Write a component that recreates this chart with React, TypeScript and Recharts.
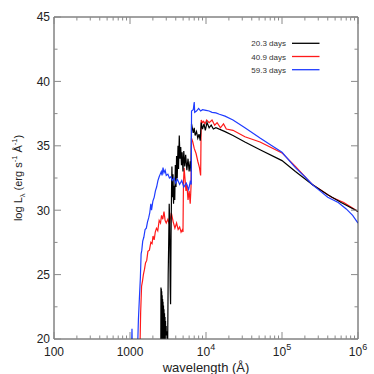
import { LineChart, Line, XAxis, YAxis, Legend } from "recharts";

// wavelength (Å), log L_lambda
const spec20 = [
  [2540, 18], [2555, 24.0], [2570, 19.5], [2585, 23.9], [2600, 19.5], [2615, 23.7],
  [2630, 19.5], [2650, 23.4], [2665, 19.5], [2685, 23.1], [2700, 19.5], [2720, 22.9],
  [2740, 19.5], [2760, 22.6], [2780, 19.5], [2800, 22.3], [2820, 19.5], [2845, 22.0],
  [2865, 19.5], [2890, 21.7], [2910, 19.5], [2935, 21.4], [2960, 19.5], [2990, 21.0],
  [3020, 19.0], [3060, 20.6], [3120, 18.5], [3180, 25.0], [3230, 27.5], [3280, 30.5],
  [3330, 29.0], [3380, 24.0], [3420, 22.7], [3470, 28.0], [3520, 31.5], [3560, 33.4],
  [3620, 31.0], [3680, 32.8], [3740, 30.5], [3800, 31.9], [3880, 30.8], [3950, 33.5],
  [4030, 31.8], [4100, 34.2], [4180, 32.5], [4282, 35.0], [4350, 33.2], [4450, 35.8],
  [4550, 34.0], [4650, 34.9], [4750, 33.5], [4850, 34.5], [4980, 33.0], [5100, 34.6],
  [5250, 33.4], [5400, 34.3], [5600, 33.1], [5800, 34.0], [6000, 33.0], [6200, 33.8],
  [6350, 33.0], [6450, 36.7], [6600, 36.4], [6800, 36.0], [7000, 36.4], [7200, 35.8],
  [7500, 36.1], [7800, 35.6], [8100, 35.9], [8400, 35.4], [8650, 36.8], [9000, 36.3],
  [9400, 36.7], [9800, 36.2], [10300, 36.8], [11000, 36.4], [11700, 36.6], [12500, 36.3],
  [13500, 36.4], [17800, 36.1], [22650, 35.8], [32500, 35.3], [51400, 34.7],
  [100000, 33.85], [150000, 33.0], [250000, 32.0], [400000, 31.2], [600000, 30.6],
  [1000000, 29.9],
];

const spec41 = [
  [1340, 18], [1380, 22], [1420, 24.1], [1460, 24.5], [1500, 25.0], [1550, 25.4],
  [1600, 25.9], [1660, 26.1], [1720, 26.8], [1800, 26.9], [1880, 27.5], [1950, 27.4],
  [2010, 28.0], [2080, 27.7], [2150, 28.3], [2230, 28.6], [2320, 28.4], [2420, 29.2],
  [2520, 29.0], [2600, 29.6], [2700, 29.3], [2800, 29.9], [2900, 29.2], [3000, 29.0],
  [3150, 29.3], [3300, 28.9], [3500, 29.8], [3700, 29.1], [3900, 28.6], [4100, 29.0],
  [4300, 28.5], [4500, 28.7], [4700, 28.3], [4900, 28.5], [4980, 28.3], [5050, 32.0],
  [5150, 33.3], [5300, 32.4], [5450, 31.5], [5600, 32.0], [5800, 30.8], [6000, 31.5],
  [6200, 30.5], [6350, 31.8], [6450, 35.6], [6700, 35.3], [7000, 34.8], [7400, 34.4],
  [7800, 33.8], [8200, 33.3], [8500, 32.7], [8650, 37.0], [9000, 36.8], [9300, 36.9],
  [9700, 36.7], [10200, 37.0], [11000, 36.8], [12000, 37.0], [13000, 36.6], [14000, 36.8],
  [15500, 36.4], [17000, 36.7], [18500, 36.3], [22650, 36.2], [32500, 35.7], [51400, 35.3],
  [100000, 34.45], [150000, 33.4], [200000, 32.6], [250000, 32.0], [316000, 31.6],
  [450000, 31.0], [650000, 30.6], [1000000, 29.9],
];

const spec59 = [
  [1040, 18], [1062, 20.8], [1080, 18], [1240, 18], [1290, 21.5], [1330, 23.2],
  [1370, 24.8], [1400, 26.6], [1430, 26.9], [1470, 27.6], [1520, 27.9], [1580, 28.5],
  [1640, 28.6], [1700, 29.1], [1760, 29.4], [1820, 29.8], [1880, 30.5], [1920, 30.0],
  [2000, 30.7], [2080, 31.0], [2160, 31.5], [2240, 31.8], [2330, 32.3], [2420, 32.6],
  [2500, 32.8], [2580, 33.0], [2640, 32.7], [2720, 33.3], [2800, 32.9], [2900, 33.1],
  [3000, 32.7], [3150, 32.8], [3300, 32.5], [3450, 32.6], [3600, 32.3], [3800, 32.5],
  [4000, 32.1], [4200, 32.4], [4500, 32.0], [4800, 32.3], [5100, 31.8], [5500, 32.1],
  [5900, 31.6], [6200, 32.2], [6400, 32.0], [6450, 37.7], [6800, 37.8], [7000, 38.4],
  [7100, 37.6], [7500, 37.7], [8000, 37.9], [8500, 37.7], [9000, 37.8], [10000, 37.75],
  [11000, 37.7], [12000, 37.6], [13500, 37.55], [15000, 37.45], [17800, 37.3],
  [22650, 37.0], [32500, 36.4], [51400, 35.6], [69500, 35.1], [100000, 34.5],
  [150000, 33.3], [200000, 32.6], [250000, 32.0], [316000, 31.5], [400000, 31.0],
  [550000, 30.6], [700000, 30.1], [850000, 29.6], [1000000, 29.0],
];

const seriesNames = ["20.3 days", "40.9 days", "59.3 days"];
const seriesColors = ["#000000", "#ff1a1a", "#1f3cff"];

const xMajor = [100, 1000, 10000, 100000, 1000000];
const xMajorLabels = [["100", ""], ["1000", ""], ["10", "4"], ["10", "5"], ["10", "6"]];
const xMinor = [100, 1000, 10000, 100000].flatMap((d) => [2, 3, 4, 5, 6, 7, 8, 9].map((m) => d * m));
const xTicks = [...xMajor, ...xMinor].sort((a, b) => a - b);
const yTicks = [20, 22.5, 25, 27.5, 30, 32.5, 35, 37.5, 40, 42.5, 45];
const yMajor = [20, 25, 30, 35, 40, 45];

const toRows = (arr: number[][]) => arr.map(([w, v]) => ({ w, v }));

const FONT = "'Liberation Sans', Arial, sans-serif";
const TICK = "#8a8a8a";
const FRAME = "#444";

const BottomTick = (props: any) => {
  const { x, y, payload } = props;
  const i = xMajor.indexOf(payload.value);
  const major = i >= 0;
  return (
    <g>
      <line x1={x} x2={x} y1={y} y2={y - (major ? 7 : 3.5)} stroke={TICK} />
      {major && (
        <text x={x} y={y + 17} textAnchor="middle" fontSize={12} fontFamily={FONT} fill="#222">
          <tspan>{xMajorLabels[i][0]}</tspan>
          {xMajorLabels[i][1] && (
            <tspan dy={-6} fontSize={9}>{xMajorLabels[i][1]}</tspan>
          )}
        </text>
      )}
    </g>
  );
};

const TopTick = (props: any) => {
  const { x, y, payload } = props;
  const major = xMajor.includes(payload.value);
  return <line x1={x} x2={x} y1={y} y2={y + (major ? 7 : 3.5)} stroke={TICK} />;
};

const LeftTick = (props: any) => {
  const { x, y, payload } = props;
  const major = yMajor.includes(payload.value);
  return (
    <g>
      <line x1={x} x2={x + (major ? 7 : 3.5)} y1={y} y2={y} stroke={TICK} />
      {major && (
        <text x={x - 4} y={y + 4.3} textAnchor="end" fontSize={12} fontFamily={FONT} fill="#222">
          {payload.value}
        </text>
      )}
    </g>
  );
};

const RightTick = (props: any) => {
  const { x, y, payload } = props;
  const major = yMajor.includes(payload.value);
  return <line x1={x} x2={x - (major ? 7 : 3.5)} y1={y} y2={y} stroke={TICK} />;
};

const renderLegend = () => (
  <svg width={374} height={80} style={{ position: "absolute", left: 0, top: 0 }}>
    {seriesNames.map((n, i) => (
      <g key={n}>
        <text x={286} y={43.3 + i * 13.2 + 3} textAnchor="end" fontSize={8} fontFamily={FONT} fill="#333">
          {n}
        </text>
        <line x1={292} x2={319.5} y1={43.3 + i * 13.2} y2={43.3 + i * 13.2} stroke={seriesColors[i]} strokeWidth={1.3} />
      </g>
    ))}
  </svg>
);

const renderXLabel = () => (
  <text x={206} y={372} textAnchor="middle" fontSize={13} fontFamily={FONT} fill="#222">
    wavelength (Å)
  </text>
);

const renderYLabel = () => (
  <text x={22} y={178} transform="rotate(-90 22 178)" textAnchor="middle" fontSize={11} fontFamily={FONT} fill="#222">
    <tspan>log L</tspan>
    <tspan dy={3} fontSize={7.5}>λ</tspan>
    <tspan dy={-3}> (erg s</tspan>
    <tspan dy={-5} fontSize={7.5}>-1</tspan>
    <tspan dy={5}> Å</tspan>
    <tspan dy={-5} fontSize={7.5}>-1</tspan>
    <tspan dy={5}>)</tspan>
  </text>
);

const App = () => {
  return (
    <div style={{ position: "absolute", left: 0, top: 0, background: "#fff" }}>
      <LineChart width={374} height={374} margin={{ top: 0, right: 0, bottom: 0, left: 0 }}>
        <XAxis
          dataKey="w"
          type="number"
          scale="log"
          domain={[100, 1000000]}
          allowDataOverflow
          ticks={xTicks}
          interval={0}
          tickSize={0}
          tickMargin={0}
          tickLine={false}
          height={35}
          axisLine={{ stroke: FRAME }}
          tick={<BottomTick />}
          label={{ content: renderXLabel }}
        />
        <XAxis
          xAxisId="top"
          orientation="top"
          dataKey="w"
          type="number"
          scale="log"
          domain={[100, 1000000]}
          allowDataOverflow
          ticks={xTicks}
          interval={0}
          tickSize={0}
          tickMargin={0}
          tickLine={false}
          height={17}
          axisLine={{ stroke: FRAME }}
          tick={<TopTick />}
        />
        <YAxis
          type="number"
          domain={[20, 45]}
          allowDataOverflow
          ticks={yTicks}
          interval={0}
          tickSize={0}
          tickMargin={0}
          tickLine={false}
          width={54}
          axisLine={{ stroke: FRAME }}
          tick={<LeftTick />}
          label={{ content: renderYLabel }}
        />
        <YAxis
          yAxisId="right"
          orientation="right"
          type="number"
          domain={[20, 45]}
          allowDataOverflow
          ticks={yTicks}
          interval={0}
          tickSize={0}
          tickMargin={0}
          tickLine={false}
          width={16}
          axisLine={{ stroke: FRAME }}
          tick={<RightTick />}
        />
        <Legend
          layout="horizontal"
          verticalAlign="middle"
          align="center"
          wrapperStyle={{ position: "absolute", left: 0, top: 0, width: 374, height: 80 }}
          content={renderLegend}
        />
        <Line data={toRows(spec41)} dataKey="v" name={seriesNames[1]} stroke={seriesColors[1]} strokeWidth={1.2} dot={false} isAnimationActive={false} />
        <Line data={toRows(spec20)} dataKey="v" name={seriesNames[0]} stroke={seriesColors[0]} strokeWidth={1.2} dot={false} isAnimationActive={false} />
        <Line data={toRows(spec59)} dataKey="v" name={seriesNames[2]} stroke={seriesColors[2]} strokeWidth={1.2} dot={false} isAnimationActive={false} />
      </LineChart>
    </div>
  );
};

export default App;
